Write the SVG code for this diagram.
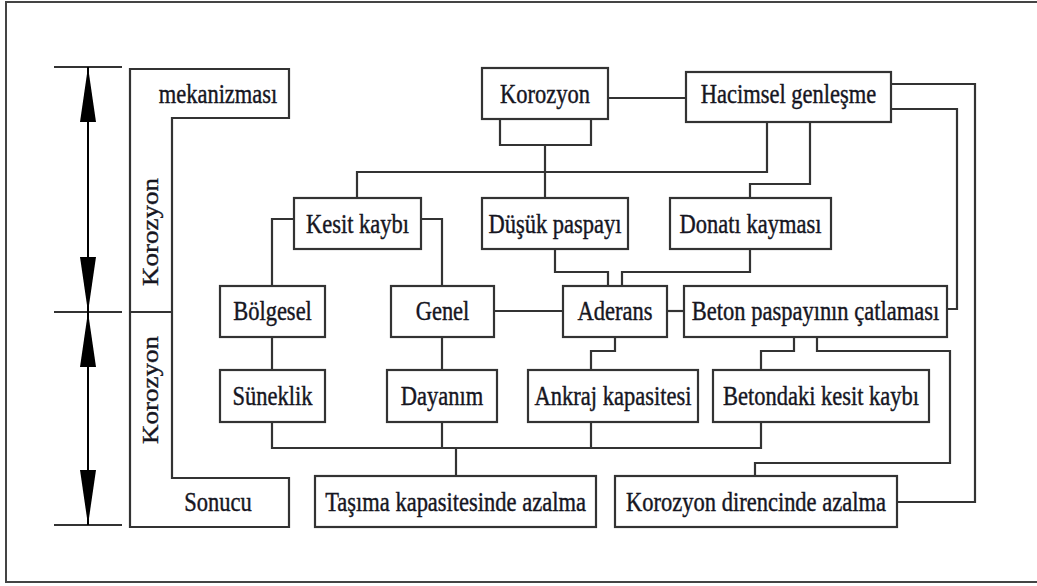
<svg xmlns="http://www.w3.org/2000/svg" width="1037" height="586" viewBox="0 0 1037 586">
<style>
.frame{fill:none;stroke:#444;stroke-width:2}
.box{fill:#fff;stroke:#333;stroke-width:2.2}
.ln{fill:none;stroke:#333;stroke-width:2.2}
.t{font-family:"Liberation Serif","Times New Roman",serif;font-size:22.5px;fill:#16161f;stroke:#16161f;stroke-width:0.35px;text-anchor:middle}
</style>
<defs>
<marker id="dimArrow" viewBox="0 -8 55 16" refX="55" refY="0" markerWidth="55" markerHeight="16" markerUnits="userSpaceOnUse" orient="auto-start-reverse">
<path d="M0,-8 L55,0 L0,8 z" fill="#000"/>
</marker>
</defs>
<rect width="1037" height="586" fill="#fff"/>
<path class="frame" d="M1040,2 H6 V582 H1040"/>

<g id="dimension">
<line class="ln" x1="54" y1="67" x2="122" y2="67"/>
<line class="ln" x1="54" y1="312" x2="122" y2="312"/>
<line class="ln" x1="54" y1="525" x2="122" y2="525"/>
<line x1="88" y1="67" x2="88" y2="312" stroke="#000" stroke-width="2" marker-start="url(#dimArrow)" marker-end="url(#dimArrow)"/>
<line x1="88" y1="312" x2="88" y2="525" stroke="#000" stroke-width="2" marker-start="url(#dimArrow)" marker-end="url(#dimArrow)"/>
</g>

<g id="side-label">
<path class="box" d="M130,69 H289 V118 H172 V478 H289 V527 H130 Z"/>
<line class="ln" x1="130" y1="312" x2="172" y2="312"/>
<text class="t" transform="matrix(1 0 0 1.2 218 103)">mekanizması</text>
<text class="t" transform="matrix(1 0 0 1.2 218 511)">Sonucu</text>
<text class="t" transform="translate(158 232) scale(1 1.2) rotate(-90)">Korozyon</text>
<text class="t" transform="translate(158 390) scale(1 1.2) rotate(-90)">Korozyon</text>
</g>

<g id="connectors">
<line class="ln" x1="608" y1="98" x2="686" y2="98"/>
<path class="ln" d="M500,119 V145 H591 V119"/>
<path class="ln" d="M545,145 V198"/>
<path class="ln" d="M357,198 V172 H767 V122"/>
<path class="ln" d="M810,122 V184 H750 V198"/>
<path class="ln" d="M891,84 H975 V502 H897"/>
<path class="ln" d="M891,109 H957 V309 H947"/>
<path class="ln" d="M294,219 H272 V286"/>
<path class="ln" d="M421,219 H442 V286"/>
<path class="ln" d="M555,249 V272 H608 V286"/>
<path class="ln" d="M750,249 V272 H622 V286"/>
<line class="ln" x1="494" y1="311" x2="563" y2="311"/>
<line class="ln" x1="667" y1="311" x2="684" y2="311"/>
<line class="ln" x1="272" y1="337" x2="272" y2="370"/>
<line class="ln" x1="442" y1="337" x2="442" y2="370"/>
<path class="ln" d="M615,337 V351 H591 V370"/>
<path class="ln" d="M794,337 V351 H761 V370"/>
<path class="ln" d="M817,337 V351 H950 V463 H755 V476"/>
<path class="ln" d="M272,422 V448 H761 V422"/>
<line class="ln" x1="442" y1="422" x2="442" y2="448"/>
<line class="ln" x1="591" y1="422" x2="591" y2="448"/>
<line class="ln" x1="456" y1="448" x2="456" y2="476"/>
</g>

<g id="n-korozyon"><rect class="box" x="482" y="68" width="126" height="51"/><text class="t" transform="matrix(1 0 0 1.2 545 103)">Korozyon</text></g>
<g id="n-hacimsel"><rect class="box" x="686" y="72" width="205" height="50"/><text class="t" transform="matrix(1 0 0 1.2 788.5 103)">Hacimsel genleşme</text></g>
<g id="n-kesit"><rect class="box" x="294" y="198" width="127" height="51"/><text class="t" transform="matrix(1 0 0 1.2 357.5 233)">Kesit kaybı</text></g>
<g id="n-dusuk"><rect class="box" x="482" y="198" width="146" height="51"/><text class="t" transform="matrix(1 0 0 1.2 555 233)">Düşük paspayı</text></g>
<g id="n-donati"><rect class="box" x="670" y="198" width="161" height="51"/><text class="t" transform="matrix(1 0 0 1.2 750.5 233)">Donatı kayması</text></g>
<g id="n-bolgesel"><rect class="box" x="220" y="286" width="105" height="51"/><text class="t" transform="matrix(1 0 0 1.2 272.5 320)">Bölgesel</text></g>
<g id="n-genel"><rect class="box" x="391" y="286" width="103" height="51"/><text class="t" transform="matrix(1 0 0 1.2 442.5 320)">Genel</text></g>
<g id="n-aderans"><rect class="box" x="563" y="286" width="104" height="51"/><text class="t" transform="matrix(1 0 0 1.2 615 320)">Aderans</text></g>
<g id="n-beton"><rect class="box" x="684" y="286" width="263" height="51"/><text class="t" transform="matrix(1 0 0 1.2 815.5 320)">Beton paspayının çatlaması</text></g>
<g id="n-suneklik"><rect class="box" x="220" y="370" width="105" height="52"/><text class="t" transform="matrix(1 0 0 1.2 272.5 405)">Süneklik</text></g>
<g id="n-dayanim"><rect class="box" x="387" y="370" width="110" height="52"/><text class="t" transform="matrix(1 0 0 1.2 442 405)">Dayanım</text></g>
<g id="n-ankraj"><rect class="box" x="528" y="370" width="170" height="52"/><text class="t" transform="matrix(1 0 0 1.2 613 405)">Ankraj kapasitesi</text></g>
<g id="n-betondaki"><rect class="box" x="713" y="370" width="216" height="52"/><text class="t" transform="matrix(1 0 0 1.2 821 405)">Betondaki kesit kaybı</text></g>
<g id="n-tasima"><rect class="box" x="315" y="476" width="281" height="51"/><text class="t" transform="matrix(1 0 0 1.2 455.5 511)">Taşıma kapasitesinde azalma</text></g>
<g id="n-direnc"><rect class="box" x="615" y="476" width="282" height="51"/><text class="t" transform="matrix(1 0 0 1.2 756 511)">Korozyon direncinde azalma</text></g>
</svg>
